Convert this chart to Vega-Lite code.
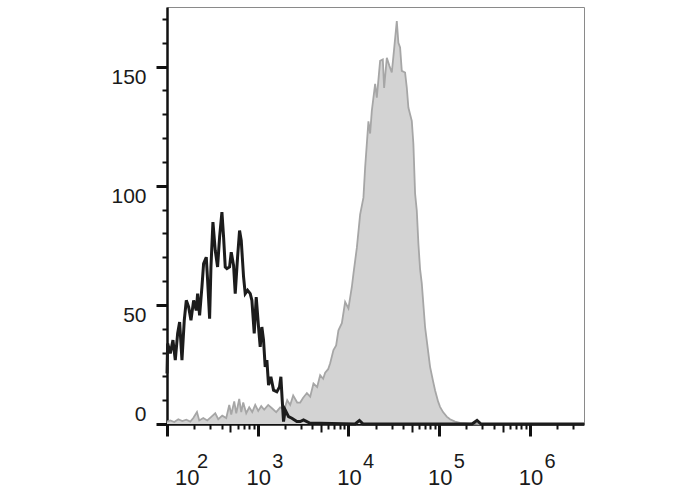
{
  "$schema": "https://vega.github.io/schema/vega-lite/v6.json",
  "width": 417,
  "height": 417,
  "autosize": {"type": "none"},
  "padding": {"left": 167, "top": 7, "right": 104, "bottom": 66},
  "background": "white",
  "resolve": {"axis": {"y": "independent"}},
  "datasets": {
    "stain": [
      {"x":100,"y":1},{"x":108.7,"y":1.5},{"x":120.3,"y":0.8},{"x":133.2,"y":2},{"x":147.4,"y":1.2},{"x":163.2,"y":1.8},{"x":180.6,"y":1},{"x":194.9,"y":2.5},{"x":214,"y":5},{"x":226.8,"y":1.5},{"x":251.1,"y":2.5},{"x":277.8,"y":1.5},{"x":307.5,"y":3},{"x":340.4,"y":4.5},{"x":367.3,"y":2},{"x":406.4,"y":3.5},{"x":449.9,"y":2.5},{"x":485.5,"y":8},{"x":510.6,"y":4},{"x":551,"y":9.5},{"x":579.7,"y":4.5},{"x":625.6,"y":10.5},{"x":658.1,"y":5},{"x":692.3,"y":9},{"x":747,"y":4.5},{"x":806.1,"y":7},{"x":869.9,"y":5},{"x":938.6,"y":8},{"x":1013,"y":5.5},{"x":1093,"y":7.5},{"x":1179,"y":6},{"x":1305,"y":8},{"x":1445,"y":6.5},{"x":1598,"y":5},{"x":1769,"y":7},{"x":1958,"y":6},{"x":2113,"y":10},{"x":2280,"y":8},{"x":2460,"y":12},{"x":2723,"y":9},{"x":2938,"y":9},{"x":3170,"y":11},{"x":3483,"y":13},{"x":3787,"y":11.5},{"x":4117,"y":17},{"x":4522,"y":15.5},{"x":4879,"y":20.5},{"x":5265,"y":19},{"x":5539,"y":21.5},{"x":5976,"y":23},{"x":6289,"y":25.5},{"x":6836,"y":31},{"x":7318,"y":33},{"x":7759,"y":39.3},{"x":8459,"y":42.3},{"x":9196,"y":51.2},{"x":10000,"y":48.5},{"x":10900,"y":57.5},{"x":11350,"y":63},{"x":12380,"y":74},{"x":13460,"y":88},{"x":14630,"y":95},{"x":15280,"y":107.7},{"x":16610,"y":127},{"x":17340,"y":121.9},{"x":18100,"y":131.4},{"x":19690,"y":142.7},{"x":20550,"y":137},{"x":22340,"y":152.4},{"x":23930,"y":153},{"x":24730,"y":141},{"x":26490,"y":153.7},{"x":28280,"y":150.3},{"x":30060,"y":147.5},{"x":31870,"y":157.3},{"x":34120,"y":169.1},{"x":35540,"y":160},{"x":37100,"y":158},{"x":38730,"y":148.2},{"x":42110,"y":147.5},{"x":43970,"y":141.2},{"x":45790,"y":132.8},{"x":47800,"y":130},{"x":49920,"y":127.2},{"x":51990,"y":117.6},{"x":54280,"y":96.7},{"x":56670,"y":89.6},{"x":59010,"y":75.8},{"x":61610,"y":65},{"x":64330,"y":59},{"x":69950,"y":40.7},{"x":73570,"y":34},{"x":79400,"y":24},{"x":85650,"y":18},{"x":90110,"y":14.2},{"x":97250,"y":9.5},{"x":102300,"y":7.2},{"x":110400,"y":5},{"x":121200,"y":3.1},{"x":131800,"y":2},{"x":149700,"y":1},{"x":170000,"y":0.5},{"x":218900,"y":0.2},{"x":282100,"y":0},{"x":3950000,"y":0}
    ],
    "control": [
      {"x":100,"y":21.2},{"x":101.6,"y":33.8},{"x":108.7,"y":29.6},{"x":116.3,"y":35.2},{"x":123.4,"y":26.8},{"x":131,"y":38},{"x":137.8,"y":42.8},{"x":146.2,"y":26.8},{"x":155,"y":43.5},{"x":163.2,"y":51.9},{"x":173.1,"y":49.1},{"x":183.7,"y":43.5},{"x":196.6,"y":51.9},{"x":210.2,"y":47.7},{"x":217.5,"y":54.7},{"x":228.8,"y":45.6},{"x":242.7,"y":57.5},{"x":253.2,"y":67.3},{"x":270.9,"y":70},{"x":280.4,"y":60.3},{"x":294.9,"y":44.2},{"x":305.1,"y":65.9},{"x":320.9,"y":84.7},{"x":340.4,"y":72.8},{"x":361.1,"y":65.9},{"x":379.9,"y":78.4},{"x":403.1,"y":88.9},{"x":420.5,"y":78.4},{"x":438.6,"y":65.9},{"x":457.6,"y":65.2},{"x":489.6,"y":65.9},{"x":510.6,"y":72.1},{"x":541.8,"y":66.6},{"x":565.1,"y":54.7},{"x":599.6,"y":70},{"x":630.8,"y":81.2},{"x":658.1,"y":77},{"x":698.2,"y":61.7},{"x":728.3,"y":54.7},{"x":772.7,"y":56.1},{"x":826.7,"y":54.7},{"x":862.5,"y":51.9},{"x":915.2,"y":38},{"x":962.7,"y":53.3},{"x":1021,"y":40.7},{"x":1065,"y":32.4},{"x":1111,"y":40.7},{"x":1159,"y":35.2},{"x":1209,"y":24},{"x":1262,"y":26.8},{"x":1316,"y":16.3},{"x":1396,"y":19.8},{"x":1494,"y":14.2},{"x":1626,"y":13.5},{"x":1739,"y":15.6},{"x":1800,"y":19.8},{"x":1862,"y":10},{"x":1925,"y":1},{"x":2009,"y":5.9},{"x":2186,"y":3.1},{"x":2379,"y":2.4},{"x":2700,"y":1},{"x":2938,"y":1},{"x":3197,"y":1.7},{"x":3479,"y":1},{"x":3787,"y":0.3},{"x":4879,"y":0.3},{"x":11850,"y":0},{"x":13220,"y":1.5},{"x":14520,"y":0},{"x":230300,"y":0},{"x":261500,"y":1.5},{"x":289400,"y":0},{"x":3950000,"y":0}
    ],
    "decades": [
      {"value":100,"exp":"2"},{"value":1000,"exp":"3"},{"value":10000,"exp":"4"},{"value":100000,"exp":"5"},{"value":1000000,"exp":"6"}
    ]
  },
  "layer": [
    {
      "data": {"name": "stain"},
      "mark": {"type": "area", "color": "#d3d3d3", "opacity": 1, "line": {"stroke": "#a6a6a6", "strokeWidth": 1.8}},
      "encoding": {
        "x": {
          "field": "x", "type": "quantitative",
          "scale": {"type": "log", "domain": [100, 3950000], "nice": false},
          "axis": {
            "title": null, "labels": false,
            "values": [100,200,300,400,500,600,700,800,900,1000,2000,3000,4000,5000,6000,7000,8000,9000,10000,20000,30000,40000,50000,60000,70000,80000,90000,100000,200000,300000,400000,500000,600000,700000,800000,900000,1000000,2000000,3000000],
            "tickSize": {"condition": [{"test": "indexof([100,1000,10000,100000,1000000], datum.value) >= 0", "value": 12}, {"test": "indexof([500,5000,50000,500000], datum.value) >= 0", "value": 8}], "value": 5},
            "tickWidth": {"condition": {"test": "indexof([100,1000,10000,100000,1000000], datum.value) >= 0", "value": 3}, "value": 2}
          }
        },
        "y": {
          "field": "y", "type": "quantitative",
          "scale": {"domain": [0, 175], "nice": false},
          "axis": {
            "title": null,
            "orient": "left",
            "values": [0, 50, 100, 150],
            "labelOverlap": false,
            "labelFontSize": 21,
            "tickSize": 11,
            "tickWidth": 3,
            "labelBaseline": {"condition": {"test": "datum.value == 0", "value": "bottom"}, "value": "top"}
          }
        }
      }
    },
    {
      "data": {"name": "control"},
      "mark": {"type": "line", "color": "#1c1c1c", "strokeWidth": 3},
      "encoding": {
        "x": {"field": "x", "type": "quantitative"},
        "y": {
          "field": "y", "type": "quantitative",
          "axis": {
            "title": null,
            "orient": "left",
            "values": [10,20,30,40,60,70,80,90,110,120,130,140,160,170],
            "labels": false,
            "domain": false,
            "tickSize": 5,
            "tickWidth": 2
          }
        }
      }
    },
    {
      "data": {"name": "decades"},
      "transform": [{"filter": "datum.exp != '2'"}],
      "mark": {"type": "text", "text": "10", "align": "center", "baseline": "alphabetic", "dx": 1, "dy": 61, "fontSize": 22, "font": "Liberation Sans", "color": "#1a1a1a"},
      "encoding": {
        "x": {"field": "value", "type": "quantitative"},
        "y": {"datum": 0, "axis": null}
      }
    },
    {
      "data": {"name": "decades"},
      "transform": [{"filter": "datum.exp == '2'"}],
      "mark": {"type": "text", "text": "10", "align": "left", "baseline": "alphabetic", "dx": 8, "dy": 61, "fontSize": 22, "font": "Liberation Sans", "color": "#1a1a1a"},
      "encoding": {
        "x": {"field": "value", "type": "quantitative"},
        "y": {"datum": 0, "axis": null}
      }
    },
    {
      "data": {"name": "decades"},
      "transform": [{"filter": "datum.exp != '2'"}],
      "mark": {"type": "text", "align": "left", "baseline": "alphabetic", "dx": 14.5, "dy": 44, "fontSize": 20, "font": "Liberation Sans", "color": "#1a1a1a"},
      "encoding": {
        "x": {"field": "value", "type": "quantitative"},
        "y": {"datum": 0, "axis": null},
        "text": {"field": "exp"}
      }
    },
    {
      "data": {"name": "decades"},
      "transform": [{"filter": "datum.exp == '2'"}],
      "mark": {"type": "text", "align": "left", "baseline": "alphabetic", "dx": 30, "dy": 44, "fontSize": 20, "font": "Liberation Sans", "color": "#1a1a1a"},
      "encoding": {
        "x": {"field": "value", "type": "quantitative"},
        "y": {"datum": 0, "axis": null},
        "text": {"field": "exp"}
      }
    }
  ],
  "config": {
    "view": {"stroke": "#8a8a8a", "strokeWidth": 1},
    "axis": {
      "grid": false,
      "domainColor": "#111111",
      "domainWidth": 2.5,
      "tickColor": "#111111",
      "labelFont": "Liberation Sans",
      "labelColor": "#1a1a1a",
      "labelPadding": 10
    }
  }
}
